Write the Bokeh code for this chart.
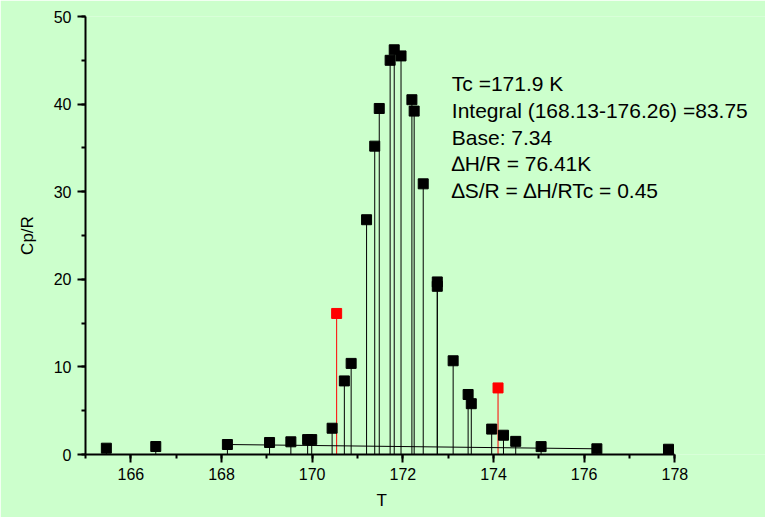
from bokeh.plotting import figure
from bokeh.models import Range1d, SingleIntervalTicker, Label, Title
from bokeh.embed import file_html
from bokeh.resources import INLINE

# ---- data ----
T_black = [165.46, 166.55, 168.13, 169.06, 169.53, 169.90, 169.99, 170.44, 170.71, 170.86,
           171.20, 171.38, 171.48, 171.72, 171.81, 171.96, 172.20, 172.25, 172.45, 172.76,
           172.76, 173.11, 173.44, 173.51, 173.96, 174.22, 174.49, 175.05, 176.28, 177.86]
Cp_black = [0.72, 0.91, 1.14, 1.37, 1.45, 1.7, 1.7, 3.0, 8.4, 10.4,
            26.8, 35.2, 39.5, 45.0, 46.2, 45.5, 40.5, 39.2, 30.9, 19.7,
            19.2, 10.7, 6.85, 5.8, 2.9, 2.2, 1.5, 0.9, 0.65, 0.6]
T_red = [170.54, 174.10]
Cp_red = [16.1, 7.6]
base_T = [168.13, 176.28]
base_Cp = [1.14, 0.65]

notes = ["Tc =171.9 K",
         "Integral (168.13-176.26) =83.75",
         "Base: 7.34",
         "\u2206H/R = 76.41K",
         "\u2206S/R = \u2206H/RTc = 0.45"]

FONT = "Liberation Sans"
BG = "#CCFFCC"

# frame runs to the right edge so the note text is not clipped; the x axis itself stops at 178
p = figure(width=765, height=517, output_backend="svg", toolbar_location=None,
           x_range=Range1d(165, 180), y_range=Range1d(0, 50),
           min_border_left=85, min_border_right=0, min_border_top=16, min_border_bottom=63)
p.background_fill_color = BG
p.border_fill_color = BG
p.outline_line_color = None
p.grid.visible = False

# stems
p.segment(x0=T_black, y0=[0] * len(T_black), x1=T_black, y1=Cp_black,
          line_color="black", line_width=1)
p.segment(x0=T_red, y0=[0] * len(T_red), x1=T_red, y1=Cp_red,
          line_color="#FF0000", line_width=1)
# baseline
p.line(base_T, base_Cp, line_color="black", line_width=1)
# markers
p.scatter(T_black, Cp_black, marker="square", size=10, fill_color="black", line_color="black")
p.scatter(T_red, Cp_red, marker="square", size=10, fill_color="#FF0000", line_color="#FF0000")

# annotation text
tx = 173.08
ty0 = 42.3
step = 3.03
for i, s in enumerate(notes):
    p.add_layout(Label(x=tx, y=ty0 - i * step, text=s, text_font=FONT, text_font_size="21px",
                       text_color="black", text_baseline="alphabetic", text_align="left"))

# axes
p.xaxis.ticker = SingleIntervalTicker(interval=2, num_minor_ticks=2)
p.yaxis.ticker = SingleIntervalTicker(interval=10, num_minor_ticks=2)
p.xaxis.bounds = (165, 178)
for ax in (p.xaxis[0], p.yaxis[0]):
    ax.axis_line_width = 2
    ax.axis_line_color = "black"
    ax.major_tick_line_width = 2
    ax.minor_tick_line_width = 2
    ax.major_tick_line_color = "black"
    ax.minor_tick_line_color = "black"
    ax.major_tick_out = 8
    ax.major_tick_in = 0
    ax.minor_tick_out = 4
    ax.minor_tick_in = 0
    ax.major_label_text_font = FONT
    ax.major_label_text_font_size = "16px"
    ax.major_label_text_color = "black"
    ax.axis_label_text_font = FONT
    ax.axis_label_text_font_size = "17px"
    ax.axis_label_text_font_style = "normal"
    ax.axis_label_text_color = "black"
p.yaxis.axis_label = "Cp/R"
p.xaxis.major_label_standoff = 5
p.yaxis.major_label_standoff = 6
p.yaxis.axis_label_standoff = 14

# x-axis title centred under the drawn axis (165..178), not under the wider frame
p.add_layout(Title(text="T", align="left", offset=291, standoff=12, text_font=FONT,
                   text_font_size="17px", text_font_style="normal", text_color="black"), "below")

open("out.html", "w").write(file_html(p, INLINE))
